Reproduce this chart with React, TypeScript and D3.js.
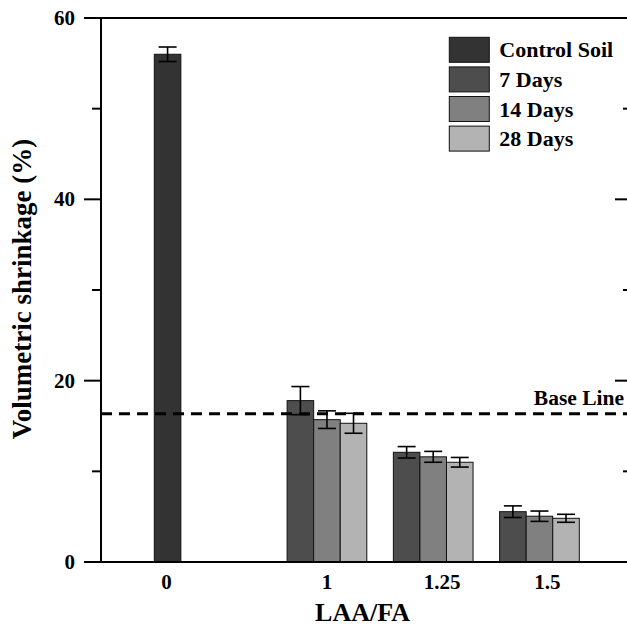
import React, { useEffect, useRef } from 'react';
import * as d3 from 'd3';

const categories = ['0', '1', '1.25', '1.5'];
const seriesNames = ['Control Soil', '7 Days', '14 Days', '28 Days'];
const seriesColors = ['#333333', '#4d4d4d', '#808080', '#b3b3b3'];
// values per category, null where the series has no bar
const controlSoil = [56.0, null, null, null];
const controlSoilErr = [0.8, null, null, null];
const days7 = [null, 17.8, 12.1, 5.55];
const days7Err = [null, 1.55, 0.63, 0.64];
const days14 = [null, 15.7, 11.6, 5.05];
const days14Err = [null, 0.97, 0.6, 0.57];
const days28 = [null, 15.3, 11.0, 4.82];
const days28Err = [null, 1.1, 0.53, 0.44];
const baseLine = 16.36;
const yMajorTicks = [0, 20, 40, 60];
const yMinorTicks = [10, 30, 50];

const FONT = '"Liberation Serif", "Times New Roman", serif';

const App = () => {
  const ref = useRef<SVGSVGElement>(null);

  useEffect(() => {
    const svg = d3.select(ref.current);
    svg.selectAll('*').remove();

    const left = 101, right = 627, top = 18, bottom = 562;

    const y = d3.scaleLinear().domain([0, 60]).range([bottom, top]);
    const x0 = d3.scaleBand().domain(categories).range([154.3, 579.3]);
    const x1 = d3.scaleBand().domain(seriesNames).range([0, x0.bandwidth()]);

    const values = [controlSoil, days7, days14, days28];
    const errs = [controlSoilErr, days7Err, days14Err, days28Err];

    const bars: any[] = [];
    seriesNames.forEach((s, si) => {
      categories.forEach((c, ci) => {
        const v = values[si][ci];
        if (v != null) bars.push({ s, si, c, v, e: errs[si][ci] });
      });
    });

    const g = svg.append('g');

    // bars
    g.selectAll('rect.bar')
      .data(bars)
      .enter().append('rect')
      .attr('class', 'bar')
      .attr('x', d => (x0(d.c) as number) + (x1(d.s) as number))
      .attr('y', d => y(d.v))
      .attr('width', x1.bandwidth())
      .attr('height', d => bottom - y(d.v))
      .attr('fill', d => seriesColors[d.si])
      .attr('stroke', '#111')
      .attr('stroke-width', 1);

    // error bars
    const eb = g.selectAll('g.err')
      .data(bars)
      .enter().append('g')
      .attr('class', 'err')
      .attr('stroke', '#000')
      .attr('stroke-width', 1.6);
    const cx = (d: any) => (x0(d.c) as number) + (x1(d.s) as number) + x1.bandwidth() / 2;
    eb.append('line')
      .attr('x1', cx).attr('x2', cx)
      .attr('y1', d => y(d.v + d.e)).attr('y2', d => y(d.v - d.e));
    eb.append('line')
      .attr('x1', d => cx(d) - 9).attr('x2', d => cx(d) + 9)
      .attr('y1', d => y(d.v + d.e)).attr('y2', d => y(d.v + d.e));
    eb.append('line')
      .attr('x1', d => cx(d) - 9).attr('x2', d => cx(d) + 9)
      .attr('y1', d => y(d.v - d.e)).attr('y2', d => y(d.v - d.e));

    // base line
    g.append('line')
      .attr('x1', left).attr('x2', right)
      .attr('y1', y(baseLine)).attr('y2', y(baseLine))
      .attr('stroke', '#000')
      .attr('stroke-width', 3)
      .attr('stroke-dasharray', '11,7');
    g.append('text')
      .attr('x', 624).attr('y', y(baseLine) - 9)
      .attr('text-anchor', 'end')
      .attr('font-family', FONT).attr('font-weight', 'bold').attr('font-size', 21.5)
      .text('Base Line');

    // frame
    const frame = svg.append('g').attr('stroke', '#000').attr('stroke-width', 2);
    frame.append('line').attr('x1', left).attr('x2', left).attr('y1', top).attr('y2', bottom);
    frame.append('line').attr('x1', 84).attr('x2', right).attr('y1', bottom).attr('y2', bottom);
    frame.append('line').attr('x1', 84).attr('x2', right).attr('y1', top).attr('y2', top);

    // left ticks (outward)
    frame.selectAll('line.maj').data(yMajorTicks).enter().append('line')
      .attr('x1', 84).attr('x2', left).attr('y1', d => y(d)).attr('y2', d => y(d));
    frame.selectAll('line.min').data(yMinorTicks).enter().append('line')
      .attr('x1', 92).attr('x2', left).attr('y1', d => y(d)).attr('y2', d => y(d));
    // right ticks (inward)
    frame.selectAll('line.rmaj').data(yMajorTicks).enter().append('line')
      .attr('x1', 615).attr('x2', right).attr('y1', d => y(d)).attr('y2', d => y(d));
    frame.selectAll('line.rmin').data(yMinorTicks).enter().append('line')
      .attr('x1', 623).attr('x2', right).attr('y1', d => y(d)).attr('y2', d => y(d));

    // y tick labels
    svg.selectAll('text.ytick').data(yMajorTicks).enter().append('text')
      .attr('x', 75).attr('y', d => y(d))
      .attr('dy', '0.34em')
      .attr('text-anchor', 'end')
      .attr('font-family', FONT).attr('font-weight', 'bold').attr('font-size', 21)
      .text(d => d);

    // x tick labels centred on the bars present in each category
    const labelNudge = [-1, 0, 9, 8];
    svg.selectAll('text.xtick').data(categories).enter().append('text')
      .attr('x', (c, i) => {
        const present = seriesNames.filter((s, si) => values[si][i] != null);
        const xs = present.map(s => (x0(c) as number) + (x1(s) as number));
        return (d3.min(xs)! + d3.max(xs)! + x1.bandwidth()) / 2 + labelNudge[i];
      })
      .attr('y', 589)
      .attr('text-anchor', 'middle')
      .attr('font-family', FONT).attr('font-weight', 'bold').attr('font-size', 21)
      .text(d => d);

    // axis titles
    svg.append('text')
      .attr('x', 362.5).attr('y', 621)
      .attr('text-anchor', 'middle')
      .attr('font-family', FONT).attr('font-weight', 'bold').attr('font-size', 26)
      .text('LAA/FA');
    svg.append('text')
      .attr('transform', `translate(31,${(top + bottom) / 2 - 1}) rotate(-90)`)
      .attr('text-anchor', 'middle')
      .attr('font-family', FONT).attr('font-weight', 'bold').attr('font-size', 27)
      .text('Volumetric shrinkage (%)');

    // legend
    const legend = svg.append('g').attr('transform', 'translate(449.3,37.3)');
    const items = legend.selectAll('g').data(seriesNames).enter().append('g')
      .attr('transform', (d, i) => `translate(0,${i * 29.6})`);
    items.append('rect')
      .attr('width', 40).attr('height', 25)
      .attr('fill', (d, i) => seriesColors[i])
      .attr('stroke', '#111').attr('stroke-width', 1);
    items.append('text')
      .attr('x', 50).attr('y', 20)
      .attr('font-family', FONT).attr('font-weight', 'bold').attr('font-size', 22)
      .text(d => d);
  }, []);

  return (
    <svg
      ref={ref}
      width={627}
      height={627}
      style={{ position: 'absolute', left: 0, top: 0, background: '#fff' }}
    ></svg>
  );
};

export default App;
